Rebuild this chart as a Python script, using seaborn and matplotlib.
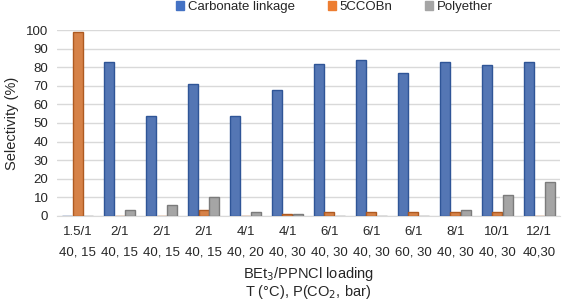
import pandas as pd
import matplotlib.pyplot as plt
import seaborn as sns

# chart values
loading = ["1.5/1", "2/1", "2/1", "2/1", "4/1", "4/1", "6/1", "6/1", "6/1", "8/1", "10/1", "12/1"]
conditions = ["40, 15", "40, 15", "40, 15", "40, 15", "40, 20", "40, 30",
              "40, 30", "40, 30", "60, 30", "40, 30", "40, 30", "40,30"]
carbonate = [0, 83, 54, 71, 54, 68, 82, 84, 77, 83, 81, 83]
ccobn = [99, 0, 0, 3, 0, 1, 2, 2, 2, 2, 2, 0]
polyether = [0, 3, 6, 10, 2, 1, 0, 0, 0, 3, 11, 18]

series = ["Carbonate linkage", "5CCOBn", "Polyether"]
colors = ["#4472C4", "#ED7D31", "#A5A5A5"]
edges = ["#2F5597", "#AE5A21", "#7B7B7B"]

groups = [f"g{i}" for i in range(len(loading))]
df = pd.DataFrame({"group": groups, series[0]: carbonate,
                   series[1]: ccobn, series[2]: polyether})
long_df = df.melt(id_vars="group", var_name="series", value_name="value")

sns.set_style("white")
plt.rcParams["font.family"] = ["Liberation Sans", "DejaVu Sans"]

fig = plt.figure(figsize=(5.67, 3.01), dpi=100)
ax = fig.add_axes([0.1, 0.283, 0.888, 0.617])

sns.barplot(data=long_df, x="group", y="value", hue="series", order=groups,
            hue_order=series, palette=colors, width=0.75, gap=0.05,
            errorbar=None, legend=False, ax=ax, zorder=3)

# darker outline to hint at the shaded bar sides
for i, container in enumerate(ax.containers):
    for bar in container:
        bar.set_edgecolor(edges[i])
        bar.set_linewidth(1.0)

ax.set_ylim(0, 100)
ax.set_yticks(range(0, 101, 10))
ax.yaxis.grid(True, color="#D9D9D9", linewidth=1.0, zorder=0)
ax.set_axisbelow(True)
for side in ["top", "right", "left", "bottom"]:
    ax.spines[side].set_visible(False)
ax.spines["bottom"].set_visible(True)
ax.spines["bottom"].set_color("#D9D9D9")

ax.set_xticks(range(len(groups)))
ax.set_xticklabels([f"{a}\n{b}" for a, b in zip(loading, conditions)],
                   fontsize=9.5, linespacing=2.0)
ax.tick_params(axis="y", labelsize=9.5, length=0, pad=6)
ax.tick_params(axis="x", length=0, pad=7)

ax.set_xlabel("BEt$_3$/PPNCl loading\nT (°C), P(CO$_2$, bar)", fontsize=10.5,
              labelpad=5, linespacing=1.0)
ax.set_ylabel("Selectivity (%)", fontsize=10.5, labelpad=5)

handles = [plt.Rectangle((0, 0), 1, 1, color=c) for c in colors]
fig.legend(handles, series, loc="upper center", bbox_to_anchor=(0.59, 1.035),
           ncol=3, frameon=False, fontsize=9.5, handlelength=0.6,
           handleheight=0.6, handletextpad=0.3, columnspacing=2.5)

fig.savefig("out.png", dpi=100)
